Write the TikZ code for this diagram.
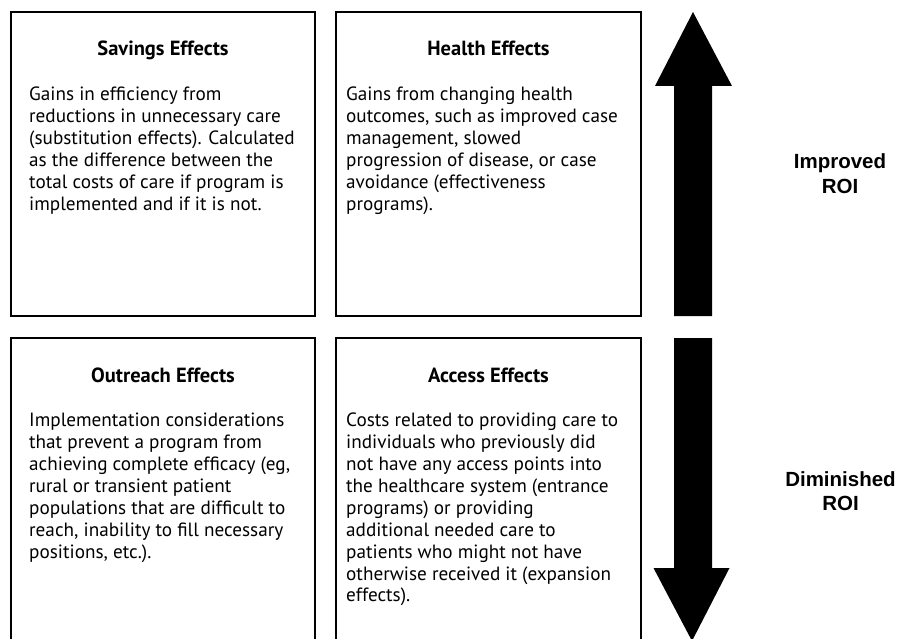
\documentclass[tikz,border=0pt]{standalone}
\usepackage{fontspec}
\setmainfont{PT Sans}
\newfontfamily\arialfont{Liberation Sans}
\tikzset{
  box/.style={draw=black, line width=2pt, minimum width=304pt, inner sep=0pt, outer sep=0pt},
  title/.style={font=\fontsize{20.5}{22}\selectfont\bfseries, anchor=base, inner sep=0pt},
  body/.style={anchor=base west, inner sep=0pt},
  side/.style={anchor=base, inner sep=0pt},
  bigarrow/.style={fill=black}
}
\newcommand{\bodytext}[1]{\parbox[t]{300pt}{\fontsize{19.2}{21.9}\selectfont\raggedright #1}}
\newcommand{\sidetext}[1]{\parbox[t]{120pt}{\arialfont\bfseries\fontsize{20.5}{24.7}\selectfont\centering #1}}
\begin{document}
\begin{tikzpicture}[x=1pt,y=-1pt]
\useasboundingbox (0,0) rectangle (900,639);
\clip (0,0) rectangle (900,639);
\fill[white] (0,0) rectangle (900,639);
% boxes
\node[box, minimum height=304pt] (savings) at (163,164) {};
\node[box, minimum height=304pt, minimum width=305pt] (health) at (488.5,164) {};
\node[box, minimum height=330pt] (outreach) at (163,503) {};
\node[box, minimum height=330pt, minimum width=305pt] (access) at (488.5,503) {};
% titles
\node[title] (t1) at (163,56) {Savings Effects};
\node[title] (t2) at (488.5,56) {Health Effects};
\node[title] (t3) at (163,382) {Outreach Effects};
\node[title] (t4) at (488.5,382) {Access Effects};
% bodies
\node[body] (b1) at (29,100.7) {\bodytext{Gains in efficiency from\\reductions in unnecessary care\\(substitution effects). Calculated\\as the difference between the\\total costs of care if program is\\implemented and if it is not.}};
\node[body] (b2) at (346,100.7) {\bodytext{Gains from changing health\\outcomes, such as improved case\\management, slowed\\progression of disease, or case\\avoidance (effectiveness\\programs).}};
\node[body] (b3) at (29,426.7) {\bodytext{Implementation considerations\\that prevent a program from\\achieving complete efficacy (eg,\\rural or transient patient\\populations that are difficult to\\reach, inability to fill necessary\\positions, etc.).}};
\node[body] (b4) at (346,426.7) {\bodytext{Costs related to providing care to\\individuals who previously did\\not have any access points into\\the healthcare system (entrance\\programs) or providing\\additional needed care to\\patients who might not have\\otherwise received it (expansion\\effects).}};
% arrows
\fill[bigarrow] (693,12) -- (732,86) -- (712,86) -- (712,316) -- (674,316) -- (674,86) -- (655,86) -- cycle;
\fill[bigarrow] (674,338) -- (712,338) -- (712,568) -- (729.5,568) -- (692,641) -- (653.5,568) -- (674,568) -- cycle;
% side labels
\node[side] (imp) at (840,169) {\sidetext{Improved\\ROI}};
\node[side] (dim) at (840.5,486) {\sidetext{Diminished\\ROI}};
\end{tikzpicture}
\end{document}
